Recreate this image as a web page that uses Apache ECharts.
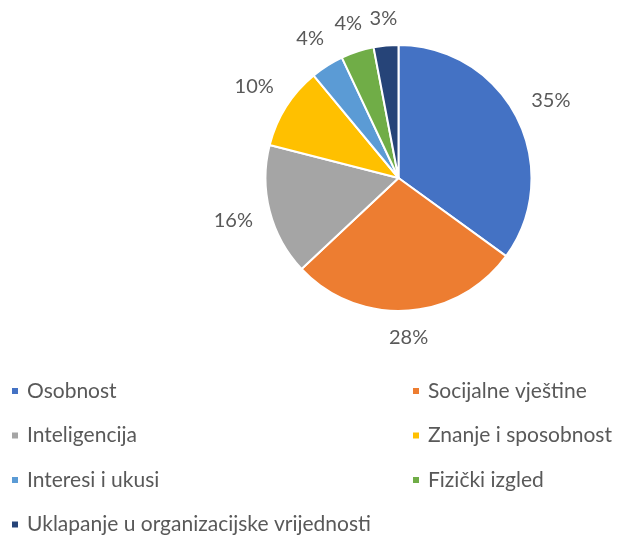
<!DOCTYPE html>
<html>
<head>
<meta charset="utf-8">
<script src="https://cdn.jsdelivr.net/npm/echarts@6/dist/echarts.min.js"></script>
<style>
  html, body { margin: 0; padding: 0; background: #fff; }
  #chart { width: 622px; height: 537px; }
</style>
</head>
<body>
<div id="chart"></div>
<script>
const categories = ['Osobnost', 'Socijalne vještine', 'Inteligencija', 'Znanje i sposobnost', 'Interesi i ukusi', 'Fizički izgled', 'Uklapanje u organizacijske vrijednosti']
const values = [35, 28, 16, 10, 4, 4, 3]
const colors = ['#4472C4', '#ED7D31', '#A5A5A5', '#FFC000', '#5B9BD5', '#70AD47', '#264478']

const leftColumn = [categories[0], categories[2], categories[4], categories[6]]
const rightColumn = [categories[1], categories[3], categories[5]]

const font = 'Lato, "Open Sans", sans-serif'
const textColor = '#595959'

// pie geometry
const CX = 398.5
const CY = 178
const R = 133
const LABEL_GAP = 16

const chart = echarts.init(document.getElementById('chart'))

const legendBase = {
  orient: 'vertical',
  top: 379.5,
  height: 157,
  padding: 0,
  itemWidth: 8,
  itemHeight: 8,
  itemGap: 21.5,
  icon: 'rect',
  selectedMode: false,
  textStyle: { fontFamily: font, fontSize: 21, color: textColor, lineHeight: 23, padding: [0, 0, 0, 3] }
}

// push each label out along its slice direction, Excel "best fit" style
const placeLabel = (p) => {
  const r = p.labelRect
  const lx = r.x + r.width / 2
  const ly = r.y + r.height / 2
  let dx = lx - CX
  let dy = ly - CY
  const len = Math.hypot(dx, dy) || 1
  dx /= len
  dy /= len
  const ext = r.width / 2 * Math.abs(dx) + r.height / 2 * Math.abs(dy)
  const d = R + LABEL_GAP + ext
  return { x: CX + dx * d, y: CY + dy * d }
}

chart.setOption({
  color: colors,
  legend: [
    Object.assign({}, legendBase, { left: 10, data: leftColumn }),
    Object.assign({}, legendBase, { left: 411, data: rightColumn })
  ],
  series: [{
    type: 'pie',
    center: [CX, CY],
    radius: R,
    startAngle: 90,
    clockwise: true,
    animation: false,
    itemStyle: { borderColor: '#fff', borderWidth: 2 },
    label: {
      show: true,
      position: 'inside',
      formatter: '{c}%',
      fontFamily: font,
      fontSize: 20,
      color: textColor
    },
    labelLayout: placeLabel,
    labelLine: { show: false },
    emphasis: { disabled: true },
    data: categories.map((name, i) => ({ name, value: values[i] }))
  }]
})
</script>
</body>
</html>
